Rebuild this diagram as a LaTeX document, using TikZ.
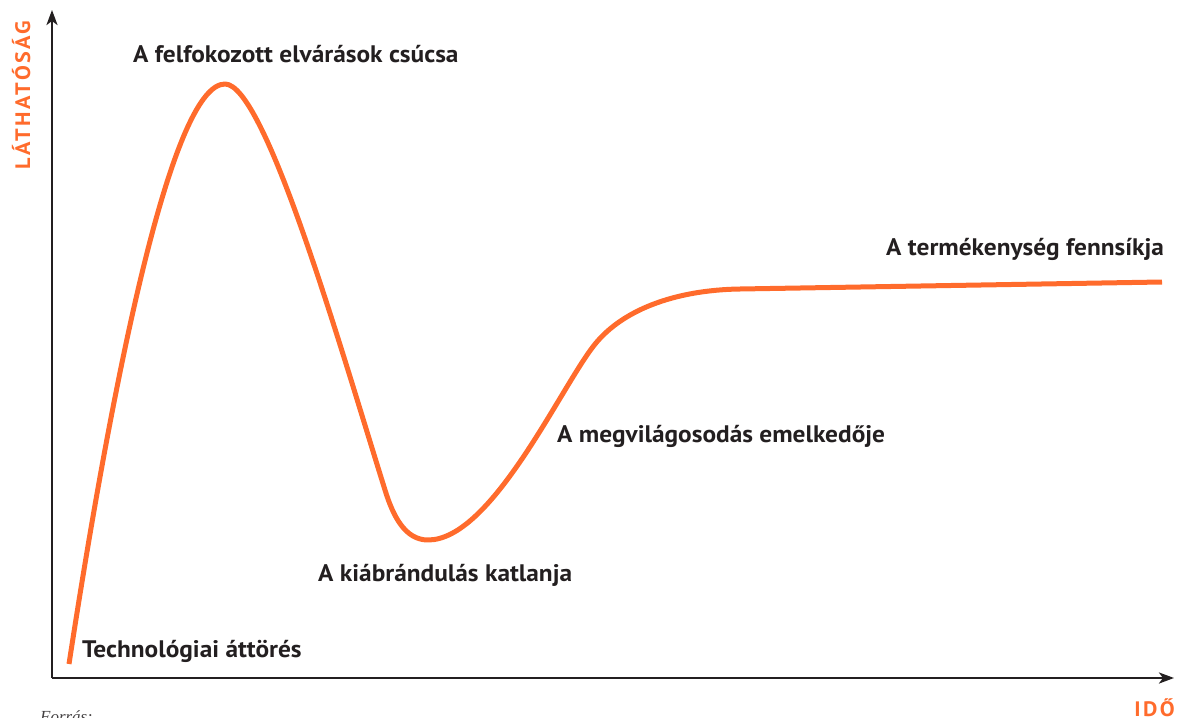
\documentclass[tikz,border=0pt]{standalone}
\usepackage{fontspec}
\setmainfont{PT Sans}
\newfontfamily\dinlike[FakeStretch=1.06]{PT Sans}
\newfontfamily\dinspaced[FakeStretch=1.06,LetterSpace=12]{PT Sans}
\newfontfamily\serifit{Liberation Serif}
\usetikzlibrary{arrows.meta}
\definecolor{hypeorange}{HTML}{FF6B2C}
\definecolor{inkdark}{HTML}{231F20}
\tikzset{
  axisline/.style={line width=2.6bp, draw=inkdark, -{Stealth[length=15bp,width=11bp,inset=4bp]}},
  hypecurve/.style={line width=5bp, draw=hypeorange, line cap=butt, line join=round},
  phase/.style={font=\dinlike\fontsize{24}{26}\selectfont\bfseries, text=inkdark, inner sep=0pt, anchor=base west},
  axislabel/.style={font=\dinspaced\fontsize{21}{22}\selectfont\bfseries, text=hypeorange, inner sep=0pt},
}
\begin{document}
\begin{tikzpicture}[x=1bp,y=-1bp]
\useasboundingbox (0,0) rectangle (1177,718);
\clip (0,0) rectangle (1177,718);
\coordinate (origin) at (52,678);
\coordinate (ytip) at (52,10);
\coordinate (xtip) at (1174,678);
\draw[axisline] (origin) -- (ytip);
\draw[axisline] (origin) -- (xtip);
\coordinate (trig) at (69,664);
\coordinate (top) at (225,84);
\coordinate (fall) at (385,490);
\coordinate (low) at (428,540);
\coordinate (rise) at (592,348);
\coordinate (knee) at (740,289);
\coordinate (plat) at (1162,282);
\draw[hypecurve] (trig)
  .. controls (118,345) and (175,84) .. (top)
  .. controls (265,84) and (340,346) .. (fall)
  .. controls (393,516) and (405,540) .. (low)
  .. controls (490,540) and (557,395) .. (rise)
  .. controls (620,310) and (675,290) .. (knee)
  -- (plat);
\node[phase] (peak) at (133,63) {A felfokozott elvárások csúcsa};
\node[phase] (plateau) at (886,255) {A termékenység fennsíkja};
\node[phase] (slope) at (557,442) {A megvilágosodás emelkedője};
\node[phase] (trough) at (318,581) {A kiábrándulás katlanja};
\node[phase] (trigger) at (82,657) {Technológiai áttörés};
\node[axislabel, rotate=90, anchor=base west] (ylab) at (30,170) {LÁTHATÓSÁG};
\node[axislabel, anchor=base east] (xlab) at (1175,716) {IDŐ};
\node[font=\serifit\itshape\fontsize{17}{18}\selectfont, text=inkdark!85, inner sep=0pt, anchor=base west] (src) at (40,722) {Forrás:};
\end{tikzpicture}
\end{document}
